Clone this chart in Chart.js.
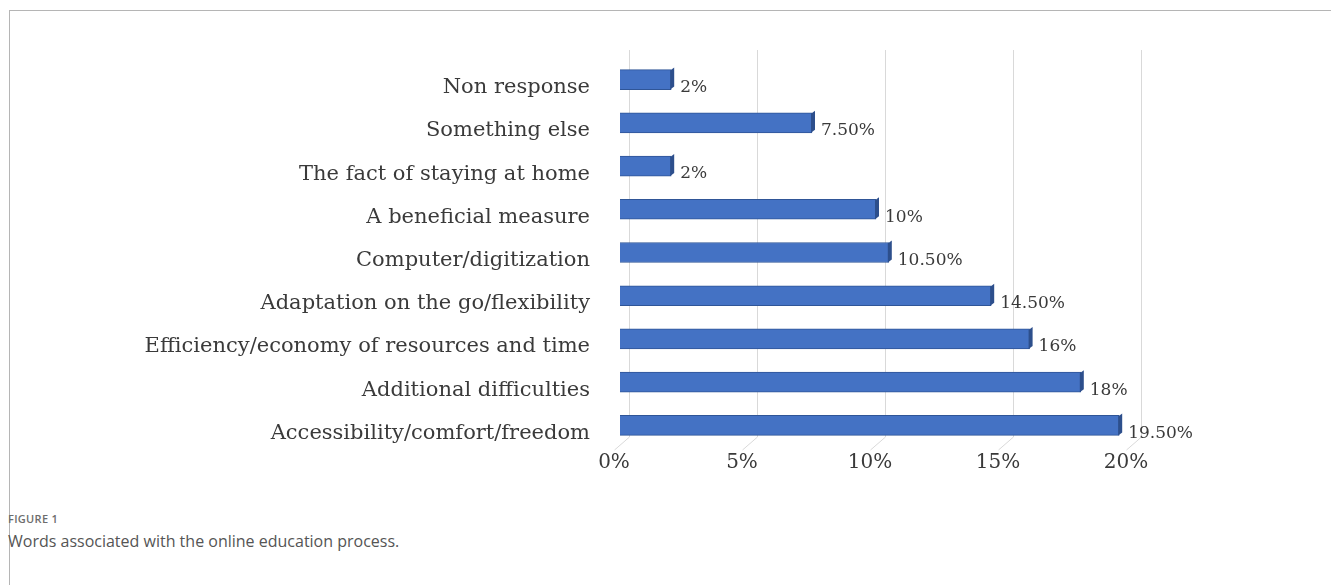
<!DOCTYPE html>
<html>
<head>
<meta charset="utf-8">
<script src="https://cdn.jsdelivr.net/npm/chart.js@4.4.0/dist/chart.umd.min.js"></script>
<style>
  body { margin:0; background:#fff; width:1331px; height:585px; overflow:hidden; position:relative; }
  #frame { position:absolute; left:9px; top:10px; width:1340px; height:600px; border-left:1px solid #b5b5b5; border-top:1px solid #b5b5b5; }
  #wrap { position:absolute; left:0; top:0; width:1331px; height:490px; }
  #fig { position:absolute; left:8px; top:511px; font:600 11px "Open Sans", sans-serif; color:#6d6d6d; letter-spacing:0.3px; }
  #cap { position:absolute; left:8px; top:530px; font:16px "Open Sans", sans-serif; color:#555; }
</style>
</head>
<body>
<div id="frame"></div>
<div id="wrap"><canvas id="grafico"></canvas></div>
<div id="fig">FIGURE 1</div>
<div id="cap">Words associated with the online education process.</div>
<script>
const categorias = [
  'Non response',
  'Something else',
  'The fact of staying at home',
  'A beneficial measure',
  'Computer/digitization',
  'Adaptation on the go/flexibility',
  'Efficiency/economy of resources and time',
  'Additional difficulties',
  'Accessibility/comfort/freedom'
];
const porcentajes = [2, 7.5, 2, 10, 10.5, 14.5, 16, 18, 19.5];
const etiquetas = ['2%', '7.50%', '2%', '10%', '10.50%', '14.50%', '16%', '18%', '19.50%'];
const ticksX = ['0%', '5%', '10%', '15%', '20%'];

const fuente = '"DejaVu Serif", "Liberation Serif", serif';

// rejilla con pared de fondo y piso inclinado (efecto 3D)
const rejilla3d = {
  id: 'rejilla3d',
  beforeDatasetsDraw(chart){
    const ctx = chart.ctx;
    const a = chart.chartArea;
    const sx = chart.scales.x;
    ctx.save();
    ctx.strokeStyle = '#d9d9d9';
    ctx.lineWidth = 1;
    [0, 5, 10, 15, 20].forEach(v => {
      const x = Math.round(sx.getPixelForValue(v)) + 9.5;
      ctx.beginPath();
      ctx.moveTo(x, a.top - 8);
      ctx.lineTo(x, a.bottom - 10);
      ctx.lineTo(x - 15, a.bottom + 3);
      ctx.stroke();
    });
    ctx.restore();
  }
};

// lado derecho oscuro y etiqueta de valor
const barras3d = {
  id: 'barras3d',
  afterDatasetsDraw(chart){
    const ctx = chart.ctx;
    const meta = chart.getDatasetMeta(0);
    meta.data.forEach((bar, i) => {
      const h = bar.height;
      const top = bar.y - h/2;
      ctx.save();
      ctx.fillStyle = '#2d4f8c';
      ctx.beginPath();
      ctx.moveTo(bar.x - 1, top + 1);
      ctx.lineTo(bar.x + 3, top - 2);
      ctx.lineTo(bar.x + 3, top + h - 3);
      ctx.lineTo(bar.x - 1, top + h);
      ctx.closePath();
      ctx.fill();
      ctx.fillStyle = '#3a3a3a';
      ctx.font = '17px ' + fuente;
      ctx.textBaseline = 'middle';
      ctx.fillText(etiquetas[i], bar.x + 9, bar.y + 8);
      ctx.restore();
    });
  }
};

const ctx = document.getElementById('grafico').getContext('2d');
new Chart(ctx, {
  type: 'bar',
  data: {
    labels: categorias,
    datasets: [{
      data: porcentajes,
      backgroundColor: '#4472c4',
      borderColor: '#2f5597',
      borderWidth: 1,
      barThickness: 20
    }]
  },
  options: {
    indexAxis: 'y',
    responsive: true,
    maintainAspectRatio: false,
    animation: false,
    layout: { padding: { top: 58, right: 199, left: 0, bottom: 0 } },
    plugins: { legend: { display: false }, tooltip: { enabled: false } },
    scales: {
      x: {
        min: 0, max: 20,
        afterFit: s => { s.height = 43; },
        grid: { display: false },
        border: { display: false },
        ticks: {
          stepSize: 5,
          padding: -4,
          labelOffset: -6,
          color: '#3a3a3a',
          font: { family: fuente, size: 20 },
          callback: (v, i) => ticksX[i]
        }
      },
      y: {
        afterFit: s => { s.width = 620; },
        grid: { display: false },
        border: { display: false },
        ticks: {
          padding: 22,
          labelOffset: 8,
          color: '#3a3a3a',
          font: { family: fuente, size: 21 }
        }
      }
    }
  },
  plugins: [rejilla3d, barras3d]
});
</script>
</body>
</html>
